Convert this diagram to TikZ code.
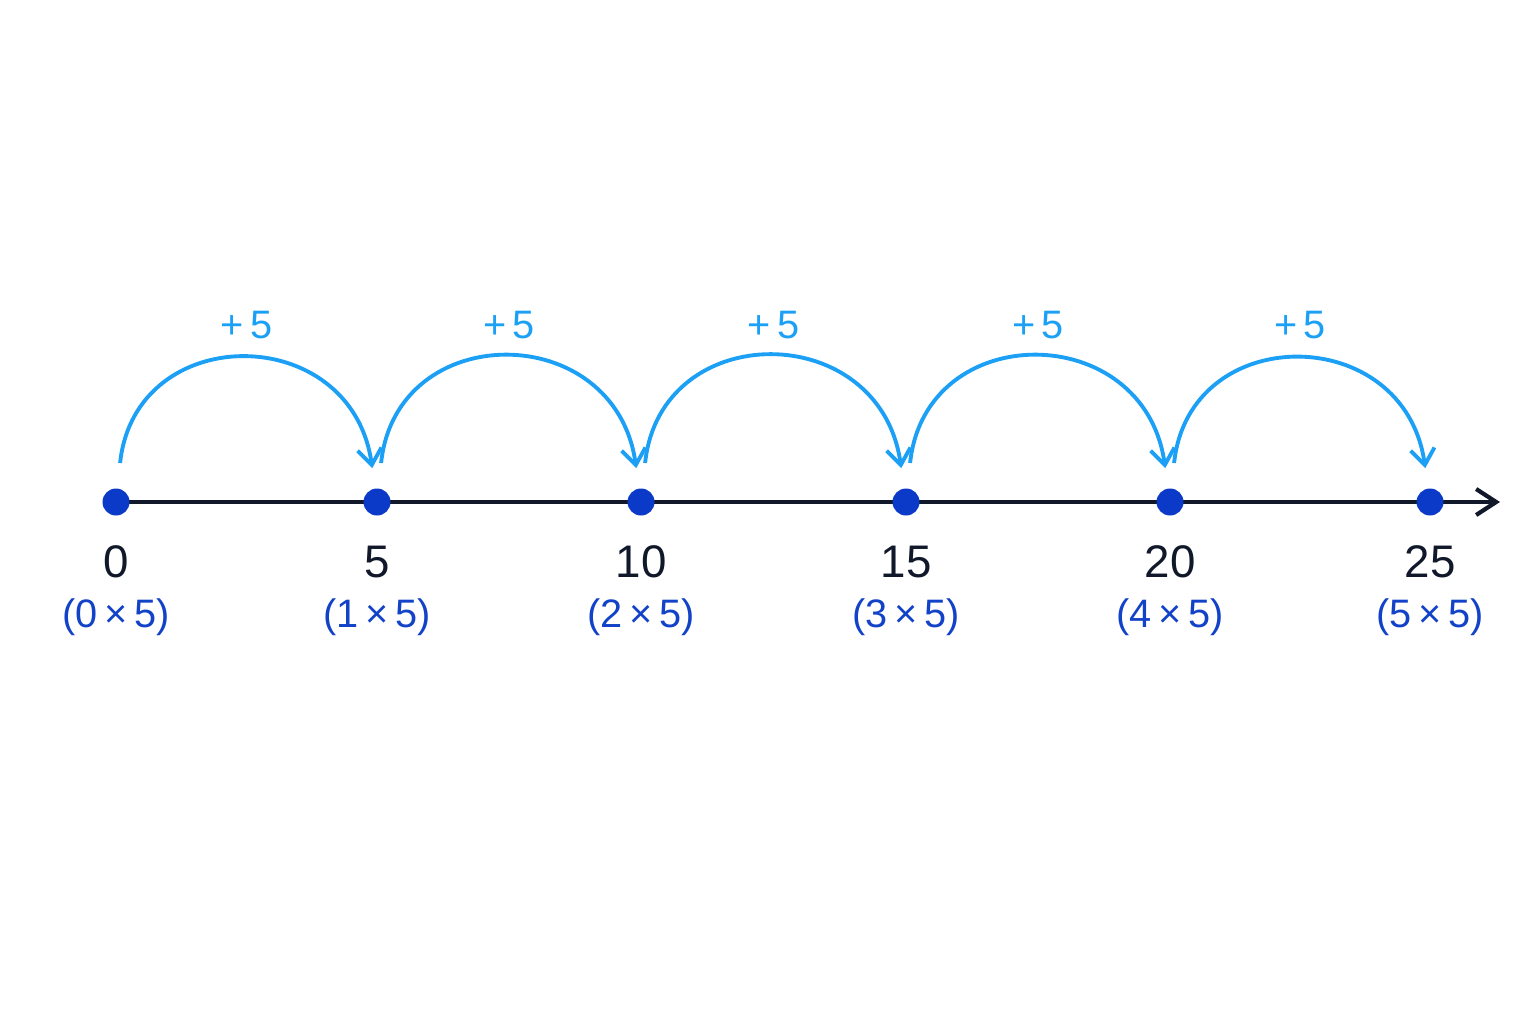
\documentclass[tikz,border=0pt]{standalone}
\usepackage{fontspec}
\setmainfont{Liberation Sans}
\usetikzlibrary{arrows.meta}

\definecolor{axisnavy}{RGB}{16,24,42}
\definecolor{dotblue}{RGB}{12,58,200}
\definecolor{jumpblue}{RGB}{28,160,245}
\definecolor{multblue}{RGB}{18,66,200}

\tikzset{
  punto/.style={circle, fill=dotblue, inner sep=0pt, minimum size=0.27cm},
  salto/.style={jumpblue, line width=1.1pt, -{Straight Barb[length=1.6mm, width=2.4mm, line width=1.1pt]},
    shorten <=0.25cm, shorten >=0.2cm, out=84, in=98, looseness=1.68},
  numero/.style={text=axisnavy, font=\fontsize{13}{15}\selectfont},
  producto/.style={text=multblue, font=\fontsize{11.3}{13}\selectfont},
  suma/.style={text=jumpblue, font=\fontsize{11.3}{13}\selectfont}
}

\begin{document}
\begin{tikzpicture}
\useasboundingbox (0,0) rectangle (15.36,10.24);

%Recta
\coordinate (fin) at (15.0,5.22);
\draw[axisnavy, line width=1.2pt, -{Straight Barb[length=2mm, width=2.6mm, line width=1.2pt]}] (1.16,5.22) -- (fin);

%Puntos y etiquetas
\foreach \i/\x in {0/1.16, 1/3.77, 2/6.41, 3/9.06, 4/11.70, 5/14.30} {
  \node[punto] (d\i) at (\x,5.22) {};
  \pgfmathtruncatemacro{\val}{5*\i}
  \node[numero] (n\i) at (\x,4.62) {\val};
  \node[producto] (p\i) at (\x,4.07) {(\i\,×\,5)};
}

%Saltos
\foreach \i/\j in {0/1, 1/2, 2/3, 3/4, 4/5} {
  \draw[salto] (d\i) to (d\j);
  \path (d\i) -- (d\j) node[midway, suma, yshift=1.77cm] (s\i) {+\,5};
}
\end{tikzpicture}
\end{document}
